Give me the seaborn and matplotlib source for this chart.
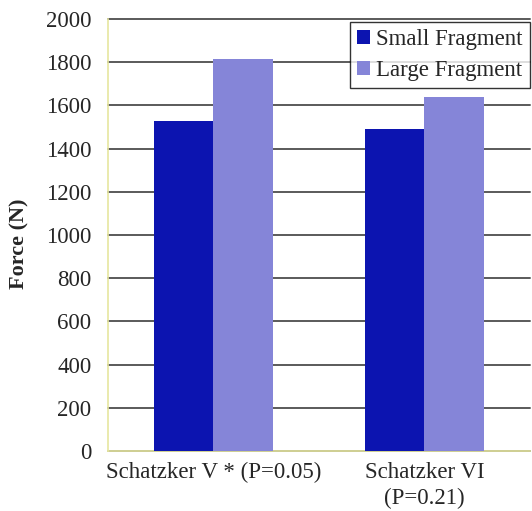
import pandas as pd
import matplotlib
matplotlib.use("Agg")
import matplotlib.pyplot as plt
import seaborn as sns

# values
categories = ['Schatzker V * (P=0.05)', 'Schatzker VI\n(P=0.21)']
small_fragment = [1530, 1490]
large_fragment = [1813, 1637]
series_names = ['Small Fragment', 'Large Fragment']
y_ticks = [0, 200, 400, 600, 800, 1000, 1200, 1400, 1600, 1800, 2000]

df = pd.DataFrame({
    'category': categories * 2,
    'force': small_fragment + large_fragment,
    'series': [series_names[0]] * 2 + [series_names[1]] * 2,
})

sns.set_style('white')
plt.rcParams['font.family'] = ['Liberation Serif', 'DejaVu Serif']

fig = plt.figure(figsize=(5.32, 5.11), dpi=100)
ax = fig.add_axes([0.203, 0.1174, 0.793, 0.8454])

sns.barplot(data=df, x='category', y='force', hue='series',
            palette=['#0c14b0', '#8585d8'], width=0.566, gap=0,
            saturation=1, edgecolor='none', ax=ax, zorder=3)

ax.set_ylim(0, 2000)
ax.set_xlim(-0.5, 1.5)
ax.set_yticks(y_ticks)
ax.yaxis.grid(True, color='#5a5a5a', linewidth=1.4, zorder=0)
ax.set_axisbelow(True)
for gl in ax.get_ygridlines():
    gl.set_clip_on(False)

ax.set_xlabel('')
ax.set_ylabel('Force (N)', fontsize=16, fontweight='bold')
ax.yaxis.set_label_coords(-0.185, 0.48)
ax.tick_params(axis='both', length=0, labelsize=16.5)
ax.tick_params(axis='y', pad=12)
ax.tick_params(axis='x', pad=8)
for lbl in ax.get_xticklabels():
    lbl.set_linespacing(1.3)

for side in ['top', 'right']:
    ax.spines[side].set_visible(False)
for side in ['left', 'bottom']:
    ax.spines[side].set_color('#e6e6a0')
    ax.spines[side].set_linewidth(1.2)

leg = ax.legend(loc='upper right', bbox_to_anchor=(1.0, 0.993), fontsize=16.5,
                frameon=True, fancybox=False, edgecolor='black',
                handlelength=0.55, handleheight=0.55, handletextpad=0.3,
                borderpad=0.3, labelspacing=0.45, borderaxespad=0)
leg.get_frame().set_linewidth(1.0)
leg.set_zorder(5)

fig.savefig('out.png', dpi=100)
